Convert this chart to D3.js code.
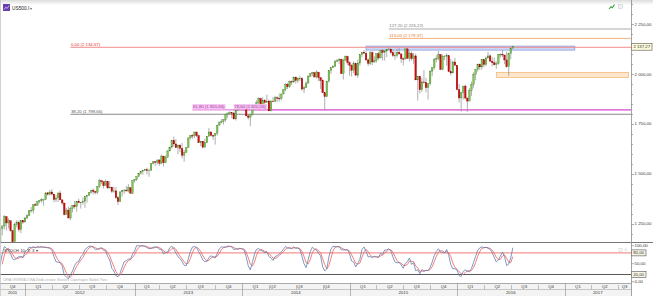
<!DOCTYPE html>
<html lang="pl">
<head>
<meta charset="UTF-8">
<title>US500.I - tygodniowy</title>
<style>
    body { margin: 0; background: #fff; }
    #chart { display: block; font-family: "Liberation Sans", Arial, sans-serif; }
    .axis-label { font-size: 4.3px; fill: #333; }
    .fib-label { font-size: 4.3px; }
    .time-label { font-size: 4.3px; fill: #333; }
</style>
<script src="https://d3js.org/d3.v7.min.js"></script>
</head>
<body>
<svg id="chart" width="653" height="296"></svg>
<script>
    // weekly US500 bars, one array per year; each week opens at the previous close
    var firstWeek = new Date(2011, 6, 18);   // Monday of the first bar (warm-up for the stochastic)
    var firstOpen = 1356.0;

    var close2011 = [1345.0, 1292.3, 1199.4, 1178.8, 1123.5, 1176.8, 1174.0, 1154.2, 1216.0, 1136.4, 1131.4, 1155.5,
        1224.6, 1238.3, 1285.1, 1253.2, 1263.9, 1215.7, 1158.7, 1244.3, 1255.2, 1219.7, 1265.3, 1257.6];
    var high2011 = [1347.0, 1345.0, 1307.4, 1208.5, 1208.5, 1190.7, 1230.7, 1204.4, 1220.4, 1220.4, 1195.9, 1171.4,
        1224.6, 1239.0, 1292.7, 1285.1, 1277.0, 1264.0, 1215.7, 1255.0, 1267.0, 1266.0, 1265.4, 1269.0];
    var low2011 = [1295.0, 1282.9, 1168.0, 1101.5, 1121.1, 1121.1, 1170.0, 1136.0, 1136.0, 1114.2, 1128.6, 1074.8,
        1155.0, 1191.0, 1221.0, 1215.0, 1226.0, 1209.0, 1158.0, 1158.0, 1231.0, 1209.0, 1202.0, 1248.0];

    var close2012 = [1277.8, 1289.1, 1315.4, 1316.3, 1344.9, 1342.6, 1361.2, 1365.7, 1369.6, 1370.9, 1404.2, 1397.1,
        1408.5, 1398.1, 1370.3, 1378.5, 1403.4, 1369.1, 1353.4, 1295.2, 1317.8, 1278.0, 1325.7, 1342.8, 1335.0, 1362.2,
        1354.7, 1356.8, 1362.7, 1386.0, 1391.0, 1405.9, 1418.2, 1411.1, 1406.6, 1437.9, 1465.8, 1460.2, 1440.7, 1460.9,
        1428.6, 1433.2, 1411.9, 1414.2, 1379.9, 1359.9, 1409.2, 1416.2, 1418.1, 1413.6, 1430.2, 1402.4, 1466.5];
    var high2012 = [1284.6, 1296.8, 1315.5, 1333.5, 1345.3, 1354.3, 1363.4, 1368.9, 1378.0, 1373.0, 1406.6, 1409.0,
        1419.2, 1422.4, 1398.1, 1392.8, 1406.6, 1415.3, 1369.1, 1353.4, 1328.5, 1334.9, 1335.5, 1343.3, 1363.5, 1362.2,
        1374.8, 1356.8, 1380.4, 1386.0, 1394.2, 1407.1, 1418.7, 1426.7, 1413.5, 1438.0, 1474.5, 1465.8, 1460.7, 1470.9,
        1460.9, 1464.0, 1433.8, 1434.3, 1433.4, 1389.0, 1409.2, 1419.7, 1423.7, 1438.6, 1448.0, 1430.2, 1466.5];
    var low2012 = [1257.6, 1274.0, 1287.0, 1306.0, 1300.0, 1337.0, 1340.0, 1352.0, 1354.0, 1340.0, 1370.0, 1391.0,
        1391.0, 1392.0, 1357.0, 1358.0, 1358.0, 1367.0, 1343.0, 1291.0, 1295.0, 1277.8, 1266.7, 1306.6, 1324.4, 1309.3,
        1352.0, 1325.4, 1345.0, 1329.2, 1354.7, 1391.0, 1401.0, 1396.6, 1397.0, 1396.6, 1429.0, 1449.6, 1426.0, 1438.0,
        1425.5, 1428.0, 1403.3, 1405.0, 1373.0, 1343.4, 1359.0, 1385.4, 1398.2, 1411.9, 1406.0, 1401.0, 1398.1];

    var close2013 = [1472.1, 1486.0, 1503.0, 1513.2, 1517.9, 1519.8, 1515.6, 1518.2, 1551.2, 1560.7, 1556.9, 1569.2,
        1553.3, 1588.9, 1555.3, 1582.2, 1614.4, 1633.7, 1667.5, 1649.6, 1630.7, 1643.4, 1626.7, 1592.4, 1606.3, 1631.9,
        1680.2, 1692.1, 1691.7, 1709.7, 1691.4, 1655.8, 1663.5, 1633.0, 1655.2, 1688.0, 1709.9, 1691.8, 1690.5, 1703.2,
        1744.5, 1759.8, 1761.6, 1770.6, 1798.2, 1804.8, 1805.8, 1805.1, 1775.3, 1818.3, 1841.4, 1831.4];
    var high2013 = [1472.3, 1486.0, 1503.3, 1514.4, 1518.3, 1524.7, 1530.9, 1525.8, 1552.5, 1563.6, 1563.6, 1570.3,
        1573.7, 1597.4, 1588.9, 1592.6, 1618.5, 1635.0, 1667.5, 1687.2, 1674.2, 1646.5, 1648.7, 1654.2, 1620.0, 1632.1,
        1680.2, 1693.1, 1698.8, 1709.7, 1709.7, 1696.8, 1664.8, 1663.6, 1676.2, 1689.0, 1729.9, 1711.3, 1696.6, 1703.4,
        1745.3, 1759.8, 1775.2, 1774.5, 1798.2, 1804.8, 1813.6, 1806.0, 1808.4, 1818.3, 1844.9, 1849.4];
    var low2013 = [1456.0, 1463.8, 1484.0, 1496.3, 1495.0, 1513.0, 1497.3, 1485.0, 1514.0, 1547.4, 1538.6, 1546.0,
        1539.5, 1548.0, 1536.0, 1553.0, 1581.3, 1614.0, 1626.7, 1635.5, 1630.7, 1598.2, 1608.0, 1577.7, 1560.3, 1604.6,
        1631.0, 1671.8, 1676.0, 1678.6, 1684.0, 1654.2, 1639.0, 1627.5, 1632.0, 1655.0, 1687.5, 1687.0, 1670.4, 1646.5,
        1692.1, 1740.0, 1752.7, 1746.2, 1760.6, 1780.0, 1800.0, 1779.1, 1772.3, 1767.0, 1817.0, 1827.7];

    var close2014 = [1842.4, 1838.7, 1790.3, 1782.6, 1797.0, 1838.6, 1836.3, 1859.5, 1878.0, 1841.1, 1866.5, 1857.6,
        1865.1, 1815.7, 1864.9, 1863.4, 1881.1, 1878.5, 1877.9, 1900.5, 1923.6, 1949.4, 1936.2, 1962.9, 1961.0, 1985.4,
        1967.6, 1978.2, 1978.3, 1925.2, 1931.6, 1955.1, 1988.4, 2003.4, 2007.7, 1985.5, 2010.4, 1982.9, 1967.9, 1906.1,
        1886.8, 1964.6, 2018.1, 2031.9, 2039.8, 2063.5, 2067.6, 2075.4, 2002.3, 2070.7, 2088.8, 2058.2];
    var high2014 = [1843.2, 1850.8, 1844.0, 1798.8, 1798.0, 1840.8, 1846.9, 1867.9, 1883.6, 1882.4, 1883.9, 1875.2,
        1897.3, 1872.5, 1869.6, 1884.9, 1891.3, 1889.0, 1902.2, 1901.3, 1924.0, 1955.6, 1955.6, 1968.2, 1968.2, 1985.6,
        1985.6, 1983.9, 1991.4, 1984.4, 1942.9, 1964.0, 1994.8, 2005.0, 2011.2, 2007.7, 2019.3, 2010.4, 1985.2, 1977.6,
        1906.1, 1965.3, 2018.2, 2034.3, 2046.2, 2071.5, 2075.8, 2079.5, 2075.8, 2077.9, 2093.6, 2093.0];
    var low2014 = [1823.7, 1815.5, 1790.0, 1772.0, 1737.9, 1791.8, 1822.0, 1825.9, 1834.4, 1839.6, 1839.5, 1842.0,
        1857.6, 1814.4, 1814.0, 1859.7, 1859.8, 1859.8, 1862.4, 1868.1, 1899.0, 1915.0, 1925.8, 1930.0, 1944.7, 1956.0,
        1952.9, 1955.6, 1965.0, 1916.4, 1904.8, 1930.0, 1954.0, 1985.0, 1990.0, 1984.7, 1978.5, 1965.0, 1926.0, 1905.0,
        1820.7, 1884.0, 1958.0, 2001.0, 2030.0, 2034.5, 2062.0, 2049.6, 2002.3, 1972.6, 2066.0, 2046.0];

    var close2015 = [2044.8, 2019.4, 2051.8, 1995.0, 2055.5, 2097.0, 2110.3, 2104.5, 2071.3, 2053.4, 2108.1, 2061.0,
        2067.0, 2102.1, 2081.2, 2117.7, 2108.3, 2116.1, 2122.7, 2126.1, 2107.4, 2092.8, 2094.1, 2110.0, 2101.5, 2076.8,
        2076.6, 2126.6, 2079.7, 2103.8, 2077.6, 2091.5, 1970.9, 1988.9, 1921.2, 1961.1, 1958.0, 1931.3, 1951.4, 2014.9,
        2033.1, 2075.2, 2079.4, 2099.2, 2023.0, 2089.2, 2090.1, 2091.7, 2012.4, 2005.6, 2061.0, 2043.9];
    var high2015 = [2064.4, 2049.3, 2064.6, 2057.6, 2072.4, 2097.0, 2110.6, 2119.6, 2117.5, 2079.5, 2114.9, 2114.9,
        2089.0, 2102.6, 2111.9, 2120.9, 2126.0, 2120.9, 2123.9, 2134.7, 2126.2, 2121.9, 2115.4, 2126.6, 2130.0, 2101.5,
        2083.0, 2128.0, 2132.8, 2114.2, 2112.7, 2105.4, 2102.5, 1989.0, 1989.0, 1981.0, 2020.9, 1980.9, 1954.0, 2020.9,
        2034.0, 2079.7, 2094.3, 2116.5, 2099.2, 2097.0, 2095.0, 2104.3, 2090.4, 2076.7, 2067.0, 2081.6];
    var low2015 = [1992.4, 1988.1, 2004.5, 1989.2, 1980.9, 2041.9, 2085.4, 2103.0, 2066.4, 2039.7, 2045.5, 2045.0,
        2056.0, 2057.6, 2072.0, 2079.0, 2067.9, 2067.9, 2085.7, 2120.0, 2099.2, 2085.7, 2072.1, 2083.0, 2097.0, 2056.3,
        2044.0, 2072.0, 2077.0, 2063.5, 2067.9, 2052.0, 1970.9, 1867.0, 1903.0, 1911.0, 1953.0, 1908.0, 1871.9, 1943.0,
        1990.0, 2022.0, 2058.8, 2069.0, 2022.0, 2019.0, 2070.0, 2042.4, 2010.0, 1993.3, 2005.0, 2043.6];

    var close2016 = [1922.0, 1880.3, 1906.9, 1940.2, 1880.1, 1864.8, 1917.8, 1948.1, 2000.0, 2022.2, 2049.6, 2035.9,
        2072.8, 2047.6, 2080.7, 2091.6, 2065.3, 2057.1, 2046.6, 2052.3, 2099.1, 2099.1, 2096.1, 2071.2, 2037.4, 2103.0,
        2129.9, 2137.27];
    var high2016 = [2043.9, 1950.3, 1908.9, 1940.2, 1947.2, 1881.6, 1930.7, 1963.0, 2009.1, 2024.6, 2052.4, 2053.9,
        2075.0, 2072.8, 2087.8, 2111.0, 2099.0, 2084.9, 2084.9, 2064.0, 2100.0, 2104.4, 2120.6, 2096.1, 2113.3, 2103.0,
        2131.7, 2141.0];
    var low2016 = [1918.5, 1857.8, 1812.3, 1872.7, 1872.0, 1810.1, 1864.8, 1891.0, 1931.8, 1969.0, 2013.0, 2022.0,
        2022.0, 2033.8, 2039.7, 2079.0, 2060.0, 2039.5, 2043.1, 2025.9, 2047.3, 2083.0, 2085.1, 2050.4, 2032.0, 1991.7,
        2074.0, 2129.0];

    var lastPrice = 2137.27;
    var priceTicks = [1250, 1500, 1750, 2000, 2250];
    var stochTicks = [0, 50, 100];
    var stochLevels = [20, 80];
    var stochParams = [10, 3, 3];   // %K length, slowing, %D length
    var years = [2011, 2012, 2013, 2014, 2015, 2016, 2017];
    var quarterNames = ["Q1", "Q2", "Q3", "Q4"];
    var startAnchoredQuarters = ["2014Q2", "2014Q3", "2014Q4"];

    var fibLines = [
        { text: "127,20 (2 226,22)", price: 2226.22, from: "2015-05-18", style: "grey" },
        { text: "113,00 (2 179,37)", price: 2179.37, from: "2015-05-18", style: "orange" },
        { text: "0,00 (2 134,67)", price: 2134.67, from: "2012-06-04", style: "red" },
        { text: "61,80 (1 820,66)", price: 1820.66, from: "2013-07-22", style: "pink" },
        { text: "78,60 (1 820,56)", price: 1820.56, from: "2013-12-09", style: "pink" },
        { text: "38,20 (1 798,66)", price: 1798.66, from: "2012-06-04", style: "dark" }
    ];
    var zones = [
        { from: "2015-03-02", to: "2017-02-06", top: 2140.6, bottom: 2120.5, style: "blue" },
        { from: "2016-05-16", to: "2017-08-07", top: 2008.5, bottom: 1983.4, style: "sand" }
    ];

    // ---- styles
    var fibStyle = {
        grey: { line: "#c8c8c8", width: 1.6, text: "#7a7a7a" },
        orange: { line: "#f3b07c", width: 1, text: "#e07a2c" },
        red: { line: "#f28a8a", width: 1, text: "#e03434" },
        pink: { line: "#dd62d6", width: 1, text: "#a63aa4", bg: "#f5c4f0" },
        dark: { line: "#8a8a8a", width: 1, text: "#555" }
    };
    var zoneStyle = {
        blue: { fill: "#c3d0f3", stroke: "#8193d8" },
        sand: { fill: "#fde2c2", stroke: "#f0b36c" }
    };

    var W = 653, H = 296;
    var plotR = 631;           // price axis line
    var mainB = 242;           // bottom of price panel
    var stochB = 283.5;        // bottom of oscillator panel
    var qRowB = 289.5;         // bottom of quarter row

    var svg = d3.select("#chart");
    var parse = d3.timeParse("%Y-%m-%d");
    var base = new Date(2012, 0, 2);
    var lead = d3.timeMonday.count(firstWeek, base);

    function weekIndex(date) {
        return d3.timeMonday.count(firstWeek, d3.timeMonday.ceil(date)) - lead;
    }

    var closes = [].concat(close2011, close2012, close2013, close2014, close2015, close2016);
    var highs = [].concat(high2011, high2012, high2013, high2014, high2015, high2016);
    var lows = [].concat(low2011, low2012, low2013, low2014, low2015, low2016);

    var bars = closes.map(function (c, i) {
        return {
            idx: i - lead,
            open: i ? closes[i - 1] : firstOpen,
            high: highs[i],
            low: lows[i],
            close: c
        };
    });

    // stochastic oscillator from the bars, as the platform computes it
    function sma(arr, n) {
        return arr.map(function (v, i) {
            if (i < n - 1) return null;
            var w = arr.slice(i - n + 1, i + 1);
            return w.some(function (d) { return d == null; }) ? null : d3.mean(w);
        });
    }
    var raw = bars.map(function (b, i) {
        if (i < stochParams[0] - 1) return null;
        var win = bars.slice(i - stochParams[0] + 1, i + 1);
        var hh = d3.max(win, function (d) { return d.high; });
        var ll = d3.min(win, function (d) { return d.low; });
        return (b.close - ll) / (hh - ll) * 100;
    });
    var kLine = sma(raw, stochParams[1]);
    var dLine = sma(kLine, stochParams[2]);

    // ---- scales
    var x = d3.scaleLinear().domain([0, 261]).range([25, 564.5]);
    var y = d3.scaleLinear().domain([1250, 2250]).range([223.6, 24.3]);
    var ys = d3.scaleLinear().domain([0, 100]).range([281.7, 245.7]);
    var fmt = d3.formatLocale({ decimal: ",", thousands: " ", grouping: [3], currency: ["", ""] }).format(",.2f");

    var defs = svg.append("defs");
    defs.append("clipPath").attr("id", "clipMain").append("rect")
        .attr("x", 0).attr("y", 0).attr("width", plotR).attr("height", mainB);
    defs.append("clipPath").attr("id", "clipStoch").append("rect")
        .attr("x", 0).attr("y", mainB + 1).attr("width", plotR).attr("height", stochB - mainB - 1);
    var grad = defs.append("linearGradient").attr("id", "topFade").attr("x1", 0).attr("x2", 0).attr("y1", 0).attr("y2", 1);
    grad.append("stop").attr("offset", 0).attr("stop-color", "#dcdcdc");
    grad.append("stop").attr("offset", 1).attr("stop-color", "#ffffff");

    svg.append("rect").attr("width", W).attr("height", 5).attr("fill", "url(#topFade)");

    // ---- price panel
    var main = svg.append("g").attr("clip-path", "url(#clipMain)");

    main.selectAll("rect.zone").data(zones).join("rect")
        .attr("class", "zone")
        .attr("x", function (d) { return x(weekIndex(parse(d.from))); })
        .attr("width", function (d) { return x(weekIndex(parse(d.to))) - x(weekIndex(parse(d.from))); })
        .attr("y", function (d) { return y(d.top); })
        .attr("height", function (d) { return y(d.bottom) - y(d.top); })
        .attr("fill", function (d) { return zoneStyle[d.style].fill; })
        .attr("fill-opacity", 0.85)
        .attr("stroke", function (d) { return zoneStyle[d.style].stroke; })
        .attr("stroke-width", 0.7);

    main.selectAll("line.fib").data(fibLines).join("line")
        .attr("class", "fib")
        .attr("x1", function (d) { return x(weekIndex(parse(d.from))); })
        .attr("x2", plotR)
        .attr("y1", function (d) { return y(d.price); })
        .attr("y2", function (d) { return y(d.price); })
        .attr("stroke", function (d) { return fibStyle[d.style].line; })
        .attr("stroke-width", function (d) { return fibStyle[d.style].width; });

    main.selectAll("line.wick").data(bars).join("line")
        .attr("class", "wick")
        .attr("x1", function (d) { return x(d.idx); })
        .attr("x2", function (d) { return x(d.idx); })
        .attr("y1", function (d) { return y(Math.max(d.high, d.open, d.close)); })
        .attr("y2", function (d) { return y(Math.min(d.low, d.open, d.close)); })
        .attr("stroke", "#8e8e8e")
        .attr("stroke-width", 0.7);

    main.selectAll("rect.body").data(bars).join("rect")
        .attr("class", "body")
        .attr("x", function (d) { return x(d.idx) - 0.8; })
        .attr("width", 1.6)
        .attr("y", function (d) { return y(Math.max(d.open, d.close)); })
        .attr("height", function (d) { return Math.max(0.6, Math.abs(y(d.open) - y(d.close))); })
        .attr("fill", function (d) { return d.close >= d.open ? "#7cc352" : "#d20a0a"; })
        .attr("stroke", function (d) { return d.close >= d.open ? "#3e7a26" : "#8c0000"; })
        .attr("stroke-width", 0.3);

    // fibonacci labels
    var fibText = main.selectAll("g.fibLabel").data(fibLines).join("g").attr("class", "fibLabel");
    fibText.each(function (d) {
        var g = d3.select(this);
        var tx = x(weekIndex(parse(d.from))) + 0.5;
        var ty = y(d.price) - 1.6;
        var t = g.append("text").attr("class", "fib-label")
            .attr("x", tx).attr("y", ty)
            .attr("fill", fibStyle[d.style].text)
            .text(d.text);
        if (fibStyle[d.style].bg) {
            var bb = t.node().getBBox();
            g.insert("rect", "text")
                .attr("x", bb.x - 0.5).attr("y", bb.y - 0.2)
                .attr("width", bb.width + 1).attr("height", bb.height + 0.4)
                .attr("fill", fibStyle[d.style].bg);
        }
    });

    // ---- header
    svg.append("rect").attr("x", 3).attr("y", 4).attr("width", 7).attr("height", 7).attr("fill", "#6b3cae");
    svg.append("path").attr("d", "M4,9.5L5.8,7.2L7.2,8.4L9,5.6").attr("fill", "none")
        .attr("stroke", "#fff").attr("stroke-width", 0.6);
    svg.append("text").attr("x", 12).attr("y", 9.6).attr("font-size", 4.8).attr("fill", "#222").text("US500.I");
    svg.append("text").attr("x", 30).attr("y", 9.6).attr("font-size", 4).attr("fill", "#666").text("▾");
    svg.append("path").attr("d", "M609,9L611,6.8L612.3,7.8L614.5,4.6").attr("fill", "none")
        .attr("stroke", "#3ba53b").attr("stroke-width", 1.1);
    svg.append("rect").attr("x", 618.5).attr("y", 4.5).attr("width", 4).attr("height", 4)
        .attr("fill", "#f2f2f2").attr("stroke", "#c4c4c4").attr("stroke-width", 0.5);

    // ---- price axis
    var minor = d3.ticks(y.invert(mainB), y.invert(0), 24);
    svg.append("g").selectAll("line").data(minor).join("line")
        .attr("x1", plotR).attr("x2", function (d) { return priceTicks.indexOf(d) >= 0 ? plotR + 3 : plotR + 2; })
        .attr("y1", function (d) { return Math.round(y(d)) + 0.5; })
        .attr("y2", function (d) { return Math.round(y(d)) + 0.5; })
        .attr("stroke", "#777").attr("stroke-width", 0.6);
    svg.append("g").selectAll("text").data(priceTicks).join("text")
        .attr("class", "axis-label")
        .attr("x", plotR + 3.6)
        .attr("y", function (d) { return y(d) + 1.5; })
        .text(function (d) { return fmt(d); });

    svg.append("rect").attr("x", plotR + 0.5).attr("y", y(lastPrice) - 3.4).attr("width", 20.5).attr("height", 6.8)
        .attr("fill", "#fdfbd9").attr("stroke", "#333").attr("stroke-width", 0.5);
    svg.append("text").attr("class", "axis-label").attr("x", plotR + 2.4).attr("y", y(lastPrice) + 1.5)
        .attr("fill", "#222").text(fmt(lastPrice));

    // ---- oscillator panel
    svg.append("line").attr("x1", 0).attr("x2", W).attr("y1", mainB + 0.5).attr("y2", mainB + 0.5)
        .attr("stroke", "#555").attr("stroke-width", 0.8);

    var osc = svg.append("g").attr("clip-path", "url(#clipStoch)");
    osc.selectAll("line.level").data(stochLevels).join("line")
        .attr("class", "level")
        .attr("x1", 0).attr("x2", plotR)
        .attr("y1", function (d) { return ys(d); }).attr("y2", function (d) { return ys(d); })
        .attr("stroke", function (d) { return d > 50 ? "#f26a6a" : "#454545"; })
        .attr("stroke-width", 0.9);

    var kPts = bars.map(function (b, i) { return { idx: b.idx, v: kLine[i] }; });
    var dPts = bars.map(function (b, i) { return { idx: b.idx, v: dLine[i] }; });
    var oscLine = d3.line()
        .defined(function (d) { return d.v != null; })
        .x(function (d) { return x(d.idx); })
        .y(function (d) { return ys(d.v); });
    osc.append("path").datum(dPts).attr("d", oscLine)
        .attr("fill", "none").attr("stroke", "#f0605c").attr("stroke-width", 0.8);
    osc.append("path").datum(kPts).attr("d", oscLine)
        .attr("fill", "none").attr("stroke", "#5f7fae").attr("stroke-width", 0.8);

    svg.append("text").attr("x", 4).attr("y", 251.6).attr("font-size", 4.3).attr("fill", "#333")
        .text("STOCH " + stochParams.join("; ") + " ▾");
    svg.append("text").attr("x", 3).attr("y", 281.4).attr("font-size", 3.2).attr("fill", "#ababab")
        .attr("textLength", 104).attr("lengthAdjust", "spacingAndGlyphs")
        .text("CENA ORIENTACYJNA   Źródła cenowe: Brussels, Copenhagen, Madrid, Paris");
    svg.append("rect").attr("x", 619).attr("y", 248.5).attr("width", 3).attr("height", 3)
        .attr("fill", "none").attr("stroke", "#c8c8c8").attr("stroke-width", 0.5);
    svg.append("text").attr("x", 623.5).attr("y", 251.3).attr("font-size", 3.5).attr("fill", "#c0c0c0").text("✕");

    svg.append("g").selectAll("text").data(stochTicks).join("text")
        .attr("class", "axis-label")
        .attr("x", plotR + 3.6)
        .attr("y", function (d) { return ys(d) + 1.5; })
        .text(function (d) { return fmt(d); });
    svg.append("g").selectAll("line").data(stochTicks).join("line")
        .attr("x1", plotR).attr("x2", plotR + 3)
        .attr("y1", function (d) { return ys(d); }).attr("y2", function (d) { return ys(d); })
        .attr("stroke", "#777").attr("stroke-width", 0.6);
    var lvl = svg.append("g").selectAll("g").data(stochLevels).join("g");
    lvl.append("rect").attr("x", plotR + 0.5).attr("y", function (d) { return ys(d) - 3; })
        .attr("width", 14.5).attr("height", 6)
        .attr("fill", "#f6f5e6").attr("stroke", "#333").attr("stroke-width", 0.5);
    lvl.append("text").attr("class", "axis-label").attr("x", plotR + 2.2)
        .attr("y", function (d) { return ys(d) + 1.5; })
        .text(function (d) { return fmt(d); });

    // ---- time axis (quarters and years)
    svg.append("rect").attr("x", 0).attr("y", stochB).attr("width", plotR).attr("height", H - stochB)
        .attr("fill", "#f3f3f3");
    svg.append("line").attr("x1", 0).attr("x2", plotR).attr("y1", stochB).attr("y2", stochB)
        .attr("stroke", "#8a8a8a").attr("stroke-width", 0.7);
    svg.append("line").attr("x1", 0).attr("x2", plotR).attr("y1", qRowB).attr("y2", qRowB)
        .attr("stroke", "#9a9a9a").attr("stroke-width", 0.5);

    var axisG = svg.append("g");
    years.forEach(function (yr) {
        var y0 = x(weekIndex(new Date(yr, 0, 1)));
        var y1 = x(weekIndex(new Date(yr + 1, 0, 1)));
        if (y1 < 0 || y0 > plotR) return;
        if (y0 >= 0) {
            axisG.append("line").attr("x1", Math.round(y0) + 0.5).attr("x2", Math.round(y0) + 0.5)
                .attr("y1", stochB).attr("y2", H).attr("stroke", "#8a8a8a").attr("stroke-width", 0.6);
        }
        var v0 = Math.max(0, y0), v1 = Math.min(plotR, y1);
        axisG.append("text").attr("class", "time-label").attr("text-anchor", "middle")
            .attr("x", (v0 + v1) / 2).attr("y", 294.3).text(yr);

        quarterNames.forEach(function (q, qi) {
            var q0 = x(weekIndex(new Date(yr, qi * 3, 1)));
            var q1 = x(weekIndex(new Date(yr, qi * 3 + 3, 1)));
            if (q1 < 0 || q0 > plotR) return;
            if (q0 >= 0 && qi > 0) {
                axisG.append("line").attr("x1", Math.round(q0) + 0.5).attr("x2", Math.round(q0) + 0.5)
                    .attr("y1", stochB + 1.5).attr("y2", qRowB).attr("stroke", "#8a8a8a").attr("stroke-width", 0.5);
            }
            var a0 = Math.max(0, q0), a1 = Math.min(plotR, q1);
            var shifted = startAnchoredQuarters.indexOf(yr + q) >= 0;
            axisG.append("text").attr("class", "time-label")
                .attr("text-anchor", shifted ? "start" : "middle")
                .attr("x", shifted ? q0 + 1.2 : (a0 + a1) / 2)
                .attr("y", 288.2).text(q);
        });
    });

    // frame lines
    svg.append("line").attr("x1", plotR + 0.5).attr("x2", plotR + 0.5).attr("y1", 0).attr("y2", H)
        .attr("stroke", "#8c8c8c").attr("stroke-width", 0.8);
    svg.append("line").attr("x1", 0.5).attr("x2", 0.5).attr("y1", 0).attr("y2", H)
        .attr("stroke", "#c6c6c6").attr("stroke-width", 0.8);
</script>
</body>
</html>
